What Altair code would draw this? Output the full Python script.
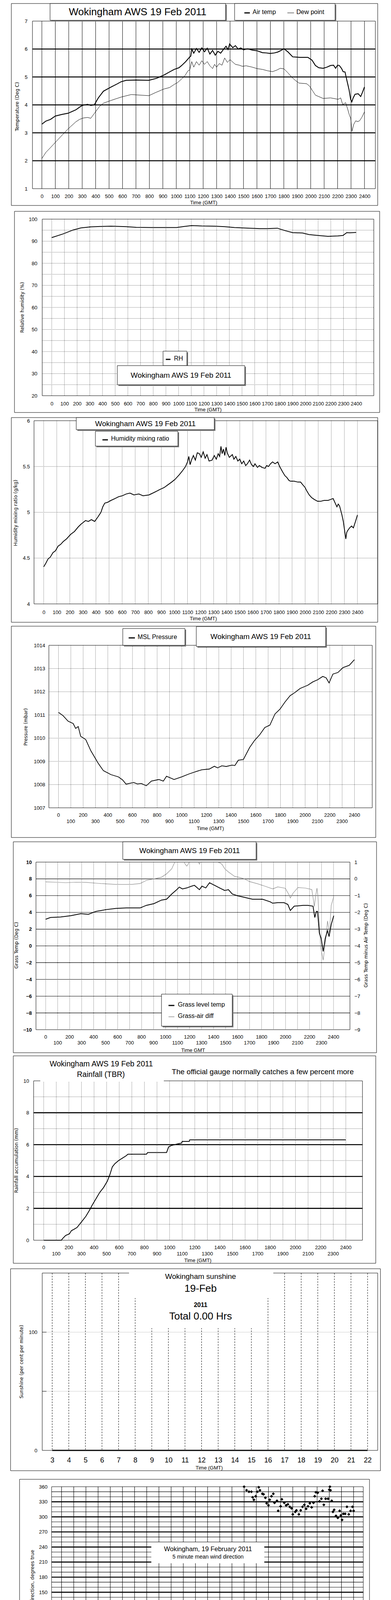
import altair as alt
import pandas as pd

FONT = "Liberation Sans, Arial, Helvetica, sans-serif"
TFONT = "DejaVu Sans, Verdana, sans-serif"
ONE = pd.DataFrame({"k": [0]})
X0 = 8        # page x of every panel's origin
VW = 966      # common view width

# ---------------- data ----------------
HUND = list(range(0, 2401, 100))
EVEN_H = list(range(0, 2401, 200))
ODD_H = list(range(100, 2400, 200))

air = [(0, 3.31), (30, 3.42), (64, 3.48), (100, 3.60), (150, 3.66), (195, 3.70), (252, 3.82), (290, 3.95),
       (308, 3.99), (340, 4.02), (364, 3.98), (390, 4.0), (420, 4.25), (458, 4.49), (515, 4.64), (560, 4.75),
       (590, 4.83), (627, 4.88), (700, 4.89), (796, 4.88), (853, 4.95), (909, 5.07), (950, 5.18), (984, 5.27),
       (1020, 5.33), (1040, 5.41), (1070, 5.55), (1097, 5.70), (1108, 5.75), (1115, 6.00), (1130, 5.85),
       (1150, 6.02), (1170, 5.88), (1190, 6.04), (1210, 5.90), (1230, 6.03), (1250, 5.82), (1270, 5.95),
       (1290, 5.78), (1310, 5.92), (1330, 5.85), (1350, 5.98), (1370, 6.10), (1385, 5.98), (1397, 6.18),
       (1420, 6.05), (1440, 6.12), (1460, 6.00), (1480, 6.04), (1500, 5.97), (1530, 6.01), (1566, 5.96),
       (1600, 5.94), (1641, 5.87), (1670, 5.86), (1698, 5.84), (1730, 5.86), (1754, 5.89), (1780, 5.95),
       (1801, 6.01), (1830, 5.90), (1866, 5.72), (1920, 5.70), (1979, 5.70), (2010, 5.60), (2035, 5.41),
       (2060, 5.33), (2092, 5.31), (2120, 5.35), (2148, 5.41), (2170, 5.42), (2185, 5.31), (2200, 5.42),
       (2213, 5.41), (2230, 5.30), (2241, 5.19), (2255, 5.18), (2269, 4.88), (2285, 4.55), (2297, 4.20),
       (2306, 4.11), (2316, 4.25), (2330, 4.38), (2353, 4.40), (2372, 4.30), (2385, 4.45), (2400, 4.64)]

dew = [(0, 2.08), (30, 2.3), (64, 2.47), (120, 2.76), (195, 3.14), (252, 3.39), (280, 3.48), (308, 3.53),
       (340, 3.55), (364, 3.52), (402, 3.77), (430, 3.95), (458, 4.06), (515, 4.16), (590, 4.28), (665, 4.37),
       (730, 4.35), (796, 4.33), (850, 4.45), (909, 4.57), (950, 4.62), (984, 4.73), (1010, 4.80), (1040, 4.93),
       (1065, 5.05), (1087, 5.22), (1100, 5.25), (1115, 5.55), (1130, 5.35), (1150, 5.55), (1170, 5.42),
       (1190, 5.58), (1210, 5.45), (1230, 5.55), (1250, 5.40), (1270, 5.30), (1285, 5.45), (1300, 5.35),
       (1320, 5.48), (1340, 5.42), (1360, 5.68), (1380, 5.52), (1400, 5.62), (1416, 5.55), (1440, 5.45),
       (1470, 5.42), (1491, 5.38), (1520, 5.40), (1566, 5.35), (1600, 5.30), (1641, 5.27), (1680, 5.22),
       (1716, 5.19), (1750, 5.25), (1773, 5.31), (1801, 5.29), (1830, 5.15), (1857, 5.0), (1885, 4.88),
       (1913, 4.78), (1969, 4.76), (1990, 4.68), (2016, 4.49), (2035, 4.35), (2054, 4.31), (2092, 4.23),
       (2148, 4.25), (2204, 4.20), (2223, 4.25), (2238, 4.01), (2260, 4.08), (2275, 3.85), (2290, 3.60),
       (2297, 3.53), (2307, 3.05), (2320, 3.30), (2335, 3.43), (2350, 3.40), (2363, 3.43), (2380, 3.55),
       (2400, 3.75)]

rh = [(0, 91.65), (89, 93.3), (169, 95.1), (229, 96.0), (308, 96.5), (388, 96.7), (467, 96.8), (586, 96.6),
      (666, 96.3), (785, 96.2), (984, 96.2), (1044, 96.7), (1103, 97.1), (1183, 96.9), (1282, 96.8),
      (1362, 96.6), (1441, 96.2), (1561, 95.9), (1640, 95.7), (1700, 95.7), (1779, 95.9), (1839, 94.8),
      (1899, 93.9), (1978, 93.7), (2028, 93.0), (2097, 92.6), (2177, 92.2), (2256, 92.4), (2296, 92.6),
      (2326, 93.9), (2350, 93.8), (2400, 94.0)]

mix = [(0, 4.405), (15, 4.44), (33, 4.49), (50, 4.51), (71, 4.56), (90, 4.58), (110, 4.63), (130, 4.65),
       (149, 4.68), (175, 4.71), (207, 4.76), (235, 4.79), (264, 4.84), (285, 4.87), (303, 4.89), (320, 4.91),
       (342, 4.90), (365, 4.92), (390, 4.90), (415, 4.95), (438, 5.00), (452, 5.06), (467, 5.10), (490, 5.11),
       (515, 5.13), (545, 5.15), (573, 5.17), (600, 5.18), (631, 5.20), (660, 5.21), (690, 5.19), (728, 5.20),
       (760, 5.18), (805, 5.19), (835, 5.21), (863, 5.23), (890, 5.25), (921, 5.27), (950, 5.30), (979, 5.33),
       (1005, 5.36), (1037, 5.41), (1060, 5.45), (1085, 5.50), (1100, 5.55), (1110, 5.61), (1120, 5.52),
       (1133, 5.58), (1145, 5.62), (1160, 5.57), (1175, 5.65), (1191, 5.64), (1205, 5.60), (1220, 5.66),
       (1235, 5.59), (1249, 5.63), (1265, 5.56), (1288, 5.57), (1305, 5.62), (1320, 5.58), (1335, 5.64),
       (1346, 5.61), (1356, 5.72), (1365, 5.64), (1375, 5.69), (1385, 5.62), (1395, 5.71), (1404, 5.65),
       (1420, 5.60), (1443, 5.63), (1455, 5.58), (1470, 5.61), (1485, 5.56), (1500, 5.58), (1515, 5.53),
       (1530, 5.56), (1545, 5.51), (1558, 5.53), (1575, 5.57), (1590, 5.52), (1605, 5.50), (1616, 5.53),
       (1635, 5.49), (1650, 5.51), (1670, 5.49), (1693, 5.48), (1706, 5.51), (1720, 5.50), (1735, 5.53),
       (1751, 5.55), (1770, 5.53), (1790, 5.55), (1805, 5.50), (1828, 5.44), (1845, 5.40), (1860, 5.38),
       (1875, 5.35), (1886, 5.34), (1915, 5.34), (1944, 5.33), (1965, 5.33), (1982, 5.30), (2000, 5.27),
       (2010, 5.24), (2031, 5.19), (2050, 5.16), (2070, 5.14), (2095, 5.12), (2118, 5.12), (2145, 5.13),
       (2176, 5.13), (2195, 5.14), (2214, 5.15), (2230, 5.10), (2243, 5.06), (2253, 5.09), (2263, 5.07),
       (2280, 4.98), (2292, 4.90), (2311, 4.71), (2318, 4.78), (2325, 4.80), (2340, 4.83), (2355, 4.85),
       (2369, 4.83), (2385, 4.90), (2400, 4.97)]

pres = [(0, 1011.11), (37, 1010.97), (78, 1010.73), (119, 1010.63), (139, 1010.42), (160, 1010.5),
        (180, 1010.08), (221, 1009.94), (262, 1009.46), (323, 1008.91), (364, 1008.60), (425, 1008.43),
        (487, 1008.33), (520, 1008.2), (548, 1008.02), (609, 1008.09), (640, 1008.03), (671, 1008.05),
        (712, 1007.95), (753, 1008.15), (814, 1008.22), (850, 1008.15), (876, 1008.36), (937, 1008.22),
        (998, 1008.33), (1059, 1008.46), (1121, 1008.57), (1162, 1008.64), (1223, 1008.67), (1264, 1008.79),
        (1290, 1008.72), (1325, 1008.81), (1360, 1008.78), (1407, 1008.84), (1430, 1008.82), (1458, 1009.05),
        (1499, 1009.08), (1550, 1009.60), (1591, 1009.91), (1632, 1010.15), (1673, 1010.46), (1714, 1010.56),
        (1755, 1011.04), (1796, 1011.25), (1837, 1011.56), (1878, 1011.83), (1918, 1011.97), (1959, 1012.14),
        (2021, 1012.28), (2061, 1012.42), (2102, 1012.52), (2143, 1012.66), (2170, 1012.6), (2194, 1012.38),
        (2225, 1012.76), (2266, 1012.83), (2307, 1013.04), (2358, 1013.14), (2399, 1013.38)]

grass = [(0, 3.18), (40, 3.39), (124, 3.45), (208, 3.60), (293, 3.85), (356, 3.77), (419, 4.12), (461, 4.22),
         (503, 4.33), (587, 4.47), (672, 4.53), (787, 4.53), (840, 4.84), (903, 5.05), (966, 5.47),
         (1008, 5.57), (1051, 6.19), (1093, 6.71), (1114, 7.02), (1140, 6.8), (1177, 6.92), (1210, 7.1),
         (1240, 7.23), (1282, 6.71), (1303, 7.13), (1335, 6.92), (1366, 7.54), (1408, 7.23), (1450, 6.92),
         (1493, 6.61), (1524, 6.71), (1556, 6.19), (1598, 5.99), (1661, 5.78), (1724, 5.57), (1808, 5.57),
         (1872, 5.26), (1893, 5.09), (1935, 5.16), (1987, 5.16), (2019, 4.95), (2040, 4.22), (2072, 4.74),
         (2145, 4.84), (2187, 4.84), (2229, 4.74), (2244, 3.39), (2257, 4.12), (2267, 4.12), (2282, 1.52),
         (2297, 0.90), (2314, -0.66), (2331, 0.90), (2350, 1.83), (2363, 1.11), (2381, 2.56), (2402, 3.60)]

gdiff = [(0, -0.18), (82, -0.20), (166, -0.23), (251, -0.20), (335, -0.21), (461, -0.28), (587, -0.33),
         (714, -0.33), (787, -0.28), (840, -0.09), (903, 0.0), (966, 0.1), (1008, 0.3), (1051, 0.6),
         (1072, 0.93), (1090, 1.15), (1120, 1.2), (1150, 1.05), (1166, 0.85), (1177, 0.76), (1190, 0.9),
         (1205, 1.15), (1240, 1.2), (1265, 1.1), (1282, 0.88), (1295, 1.1), (1330, 1.25), (1380, 1.2),
         (1420, 1.1), (1440, 0.97), (1455, 0.95), (1472, 0.85), (1493, 0.6), (1524, 0.41), (1577, 0.14),
         (1608, 0.1), (1650, 0.02), (1703, -0.17), (1766, -0.29), (1829, -0.44), (1893, -0.6), (1935, -0.48),
         (1998, -0.56), (2029, -0.95), (2040, -1.14), (2061, -0.87), (2103, -0.52), (2166, -0.55),
         (2219, -0.64), (2229, -1.1), (2240, -1.65), (2250, -1.06), (2262, -0.55), (2270, -1.0), (2280, -2.5),
         (2293, -4.07), (2314, -4.85), (2335, -3.66), (2350, -2.51), (2366, -3.24), (2381, -1.58),
         (2402, -1.06)]

rain = [(0, 0), (140, 0), (150, 0.1), (174, 0.3), (204, 0.4), (220, 0.6), (244, 0.7), (265, 0.8), (285, 1.0),
        (305, 1.2), (335, 1.5), (365, 1.9), (385, 2.2), (415, 2.6), (445, 3.0), (475, 3.3), (505, 3.7),
        (525, 4.1), (545, 4.6), (565, 4.8), (595, 5.0), (625, 5.15), (655, 5.3), (669, 5.4), (816, 5.4),
        (826, 5.5), (976, 5.5), (992, 5.85), (1016, 5.95), (1066, 6.05), (1096, 6.1), (1100, 6.2),
        (1156, 6.2), (1160, 6.3), (2400, 6.3)]

sun_hours = list(range(3, 23))
sun_vals = [0] * 20

wdir = [(0.05, 89.6), (0.1, 86), (0.2, 88), (0.4, 90), (0.5, 95), (0.6, 84), (0.7, 94), (0.9, 105), (1.0, 108),
        (1.1, 102), (1.3, 101), (1.5, 97), (1.6, 87), (1.7, 106), (1.9, 102), (2.0, 109), (2.1, 108),
        (2.3, 102), (2.5, 97), (2.6, 92), (2.8, 88), (3.0, 98), (3.1, 87), (3.3, 90), (3.5, 87), (3.7, 90),
        (3.9, 91), (4.1, 87), (4.2, 98), (4.3, 102), (4.5, 95), (4.7, 101), (4.9, 99), (5.0, 98), (5.2, 94),
        (5.3, 98), (5.5, 92), (5.7, 95), (5.9, 92), (6.0, 101), (6.1, 92), (6.3, 97), (6.5, 94), (6.7, 91),
        (6.9, 87), (7.0, 90), (7.2, 94), (7.4, 99), (7.6, 95), (7.8, 94), (8.0, 99), (8.2, 92), (8.4, 87),
        (8.6, 90), (8.8, 94), (9.0, 87), (9.2, 97), (9.4, 101), (9.5, 94), (9.6, 87), (9.9, 84), (10.1, 76),
        (10.3, 72), (10.5, 70), (10.7, 63), (10.9, 59), (11.1, 58), (11.3, 48), (11.5, 62), (11.6, 55),
        (11.8, 59), (12.0, 51), (12.2, 48), (12.4, 44), (12.6, 46), (12.8, 51), (13.0, 56), (13.2, 46),
        (13.3, 34), (13.5, 40), (13.6, 31), (13.7, 37), (13.8, 48), (13.9, 33), (14.2, 42), (14.3, 49),
        (14.4, 34), (14.6, 27), (14.7, 26), (14.8, 7.5), (14.9, 6), (15.5, 4), (21.7, 2.5), (21.8, 10),
        (15.0, 360), (15.2, 353), (15.4, 350), (15.6, 350), (15.7, 339), (15.8, 334), (15.95, 341),
        (16.1, 350), (16.2, 359), (16.3, 353), (16.5, 346), (16.6, 345), (16.75, 338), (16.85, 327),
        (17.0, 323), (17.1, 334), (17.25, 341), (17.4, 346), (17.5, 328), (17.7, 332), (17.8, 312),
        (18.0, 321), (18.1, 335), (18.3, 328), (18.45, 323), (18.6, 325), (18.75, 320), (18.9, 317),
        (19.0, 305), (19.2, 310), (19.3, 313), (19.5, 305), (19.65, 313), (19.8, 320), (19.95, 324),
        (20.1, 316), (20.25, 321), (20.4, 327), (20.55, 319), (20.7, 328), (20.8, 341), (20.9, 349),
        (21.05, 348), (21.2, 331), (21.35, 336), (21.45, 352), (21.55, 324), (21.7, 336), (21.9, 336),
        (22.0, 354), (22.05, 360), (22.1, 353), (22.2, 332), (22.3, 310), (22.4, 314), (22.55, 302),
        (22.7, 298), (22.85, 312), (22.95, 303), (23.05, 294), (23.15, 306), (23.3, 306), (23.45, 320),
        (23.6, 305), (23.75, 312), (23.9, 320), (24.0, 312)]

wmean = [(0.1, 6.5), (0.3, 6.9), (0.5, 7.0), (0.8, 6.0), (1.0, 6.2), (1.3, 6.5), (1.6, 6.7), (1.8, 6.1),
         (2.0, 6.7), (2.2, 5.0), (2.4, 6.0), (2.7, 5.8), (3.0, 5.9), (3.3, 5.8), (3.5, 6.2), (3.7, 5.4),
         (4.0, 6.5), (4.2, 4.8), (4.4, 6.0), (4.6, 6.5), (4.8, 5.2), (5.1, 6.9), (5.3, 6.9), (5.5, 6.0),
         (5.7, 5.0), (5.9, 4.6), (6.1, 4.8), (6.3, 6.0), (6.6, 5.8), (6.8, 5.6), (7.0, 5.0), (7.2, 6.0),
         (7.4, 6.9), (7.6, 5.6), (7.8, 4.8), (8.0, 4.8), (8.2, 5.8), (8.4, 6.0), (8.6, 6.0), (8.8, 5.0),
         (9.0, 5.2), (9.2, 5.0), (9.4, 5.6), (9.6, 5.2), (9.9, 5.0), (10.0, 4.3), (10.2, 4.8), (10.4, 3.3),
         (10.6, 4.3), (10.8, 4.6), (11.0, 4.3), (11.2, 4.1), (11.4, 3.5), (11.6, 4.6), (11.8, 4.3),
         (12.0, 4.8), (12.2, 5.0), (12.4, 4.1), (12.6, 5.4), (12.8, 4.1), (13.0, 4.3), (13.2, 4.6),
         (13.4, 4.1), (13.6, 4.3), (13.8, 3.7), (14.0, 4.3), (14.2, 3.7), (14.4, 5.2), (14.6, 2.7),
         (14.8, 3.5), (15.0, 3.3), (15.2, 3.9), (15.4, 3.3), (15.6, 3.7), (15.8, 3.9), (16.0, 3.5),
         (16.2, 3.7), (16.4, 3.9), (16.6, 3.1), (16.8, 2.4), (17.0, 3.3), (17.2, 3.7), (17.4, 2.7),
         (17.6, 2.4), (17.8, 2.9), (18.0, 4.3), (18.2, 3.7), (18.4, 3.3), (18.6, 3.9), (18.8, 4.6),
         (19.0, 3.7), (19.2, 3.9), (19.4, 4.3), (19.6, 4.8), (19.8, 3.5), (20.0, 6.5), (20.2, 5.6),
         (20.4, 3.7), (20.6, 3.1), (20.8, 3.7), (21.0, 4.3), (21.2, 4.8), (21.4, 2.9), (21.6, 3.7),
         (21.8, 2.2), (22.0, 2.4), (22.2, 3.1), (22.4, 2.7), (22.6, 2.9), (22.8, 2.4), (23.0, 3.7),
         (23.2, 4.1), (23.4, 3.9), (23.6, 2.9), (23.8, 3.1)]

# max gust, ten readings per hour (6-minute steps)
gust_by_hour = [
    [8.5, 11.5, 8.0, 12.8, 9.0, 11.0, 7.5, 12.2, 8.5, 10.5],
    [7.0, 11.5, 8.0, 10.5, 7.5, 11.8, 8.0, 12.2, 7.5, 10.8],
    [14.7, 8.0, 11.0, 7.0, 10.5, 6.5, 11.2, 7.5, 10.0, 6.8],
    [10.5, 7.0, 11.5, 8.0, 12.0, 7.5, 12.4, 6.5, 11.5, 7.0],
    [12.2, 8.0, 11.0, 6.0, 10.5, 7.5, 12.0, 6.5, 11.5, 8.0],
    [11.7, 6.5, 11.0, 7.5, 10.5, 5.5, 9.5, 6.0, 10.8, 7.0],
    [10.5, 6.0, 11.2, 7.0, 9.5, 5.5, 12.0, 6.5, 13.0, 7.0],
    [11.5, 6.0, 12.0, 7.0, 10.5, 6.0, 11.0, 5.5, 10.5, 6.5],
    [11.0, 6.0, 10.0, 6.5, 11.5, 6.0, 10.0, 5.5, 9.5, 6.0],
    [10.5, 5.5, 11.5, 6.0, 11.0, 5.5, 9.0, 5.0, 9.5, 5.5],
    [7.5, 4.5, 8.0, 5.0, 6.5, 4.0, 7.5, 5.0, 7.0, 4.5],
    [6.5, 4.0, 8.0, 4.5, 7.5, 5.0, 8.5, 4.5, 7.0, 5.0],
    [8.0, 4.5, 7.5, 5.0, 7.0, 4.5, 6.5, 5.5, 7.5, 4.5],
    [7.0, 4.5, 7.5, 5.0, 6.5, 4.5, 7.0, 4.5, 6.5, 4.0],
    [6.5, 4.0, 6.5, 3.5, 6.0, 3.0, 5.5, 4.0, 6.0, 3.5],
    [6.0, 3.5, 6.5, 4.0, 5.5, 3.5, 6.0, 4.0, 5.5, 3.0],
    [5.0, 3.5, 5.5, 3.0, 5.0, 3.5, 4.5, 2.5, 5.0, 3.0],
    [4.5, 2.5, 5.5, 3.0, 5.0, 2.5, 6.0, 3.0, 6.5, 3.5],
    [6.0, 3.5, 7.5, 4.0, 8.0, 4.5, 7.0, 4.0, 8.5, 4.5],
    [7.5, 4.0, 8.0, 4.5, 7.0, 4.0, 7.5, 5.0, 6.5, 4.0],
    [11.0, 5.5, 8.0, 4.5, 7.0, 3.5, 6.0, 4.5, 7.5, 4.0],
    [7.5, 4.0, 7.0, 3.5, 6.0, 3.0, 5.0, 2.0, 6.0, 2.5],
    [5.5, 3.0, 6.0, 3.0, 5.0, 3.5, 6.0, 3.0, 5.5, 3.0],
    [6.5, 3.5, 5.0, 4.0, 5.5, 3.5, 5.0, 3.5, 5.0],
]

wdiam = [(2.22, 49), (4.24, 46.5), (4.26, 47.5), (4.28, 48), (4.32, 49),
         (5.66, 50), (5.70, 48), (5.72, 46.5), (5.76, 45.5), (5.80, 44.5), (5.86, 47), (5.88, 43.5), (5.92, 42),
         (5.96, 41), (5.98, 40), (6.02, 39), (6.04, 49.5), (6.10, 48), (6.14, 47), (6.18, 50), (6.22, 46),
         (6.26, 44), (6.30, 48.5),
         (7.07, 49), (7.10, 48), (7.14, 47), (7.18, 49.5),
         (7.96, 50), (8.00, 49), (8.04, 48.5), (8.08, 47), (8.12, 45.5), (8.18, 49.5), (8.24, 48),
         (8.85, 48), (8.88, 46), (8.92, 45), (9.02, 49), (9.12, 48), (9.25, 50), (9.35, 47.5), (9.45, 45.5),
         (9.60, 49.5), (9.75, 47),
         (9.98, 46), (10.0, 44), (10.02, 42), (10.05, 40), (10.08, 38), (10.12, 37), (10.15, 36), (10.2, 45),
         (10.25, 41), (10.3, 46.5), (10.35, 43), (10.4, 40),
         (10.46, 44), (10.5, 42), (10.54, 41), (10.58, 40), (10.62, 38), (10.66, 36), (10.70, 34), (10.74, 33),
         (10.8, 44), (10.84, 43), (10.88, 41), (10.92, 40), (10.98, 45), (11.04, 47), (11.1, 33.5), (11.14, 36),
         (11.18, 42),
         (11.25, 38), (11.3, 36), (11.34, 35), (11.38, 32.5), (11.44, 40), (11.5, 44), (11.54, 46), (11.58, 48),
         (11.62, 49), (11.66, 47), (11.70, 45), (11.76, 43), (11.82, 41), (11.88, 39), (11.94, 44), (12.0, 47),
         (12.06, 49), (12.12, 46),
         (12.28, 45), (12.34, 42), (12.40, 40), (12.46, 43), (12.52, 47), (12.58, 48), (12.64, 44), (12.70, 41),
         (12.76, 39.5), (12.84, 46), (12.90, 42), (12.96, 44), (13.04, 46), (13.10, 48), (13.16, 49.5),
         (13.22, 47), (13.28, 43), (13.34, 40), (13.40, 45), (13.44, 48),
         (13.80, 44), (13.85, 42), (13.90, 40), (13.95, 38), (14.0, 41), (14.05, 43), (14.1, 39), (14.15, 37),
         (14.2, 42), (14.28, 48.5), (14.32, 45.5), (14.38, 43), (14.45, 39), (14.52, 37),
         (14.6, 33), (14.64, 32), (14.68, 29), (14.72, 27), (14.76, 25.5), (14.82, 31), (14.88, 34), (14.94, 35),
         (15.0, 33), (15.06, 30), (15.12, 28.5), (15.2, 32), (15.28, 35),
         (15.32, 41), (15.38, 39), (15.44, 37), (15.50, 35), (15.56, 33), (15.62, 31), (15.7, 38), (15.78, 40),
         (15.86, 37), (15.94, 34),
         (16.05, 40), (16.1, 38), (16.15, 36), (16.2, 34), (16.25, 32), (16.3, 31), (16.36, 30), (16.42, 35),
         (16.5, 33), (16.56, 31), (16.62, 28), (16.68, 26), (16.74, 24.5), (16.8, 27), (16.86, 30), (16.92, 32),
         (16.98, 35),
         (17.1, 33), (17.16, 30), (17.22, 27), (17.28, 25), (17.34, 23), (17.40, 22), (17.46, 25), (17.52, 28),
         (17.58, 32), (17.64, 35), (17.70, 38), (17.76, 36), (17.82, 34), (17.88, 31), (17.92, 29), (17.96, 27),
         (18.0, 24), (18.04, 22), (18.08, 44), (18.12, 42),
         (18.16, 40), (18.22, 37), (18.28, 35), (18.34, 33), (18.40, 31), (18.46, 39), (18.52, 41), (18.58, 43),
         (18.64, 44), (18.70, 41), (18.76, 39), (18.82, 37), (18.88, 35), (18.94, 38), (19.0, 40),
         (19.1, 49), (19.16, 48), (19.22, 47), (19.28, 45), (19.34, 43), (19.40, 41), (19.46, 39), (19.52, 37),
         (19.58, 47), (19.64, 46), (19.70, 44), (19.76, 42), (19.82, 40), (19.88, 37), (19.94, 35), (20.0, 33),
         (20.3, 49.5), (20.34, 47), (20.38, 44), (20.42, 42), (20.46, 39), (20.5, 36), (20.54, 33), (20.58, 31),
         (20.62, 29.5),
         (20.68, 31), (20.72, 33), (20.76, 35), (20.80, 37), (20.86, 39), (20.92, 41), (20.98, 44), (21.04, 46),
         (21.10, 48), (21.16, 45), (21.22, 41), (21.28, 38), (21.34, 36), (21.40, 34),
         (21.46, 31), (21.52, 29), (21.58, 27), (21.64, 26), (21.70, 28), (21.76, 30), (21.82, 28), (21.86, 26),
         (21.90, 24), (21.94, 22), (21.98, 20), (22.02, 21), (22.08, 27), (22.14, 29),
         (22.2, 34), (22.26, 32), (22.32, 30), (22.38, 28), (22.44, 27), (22.50, 25), (22.56, 26), (22.62, 36),
         (22.68, 34), (22.74, 32), (22.80, 30), (22.86, 28), (22.92, 26), (22.96, 25),
         (23.0, 24), (23.06, 41), (23.12, 40), (23.18, 39), (23.24, 38), (23.30, 36), (23.36, 34), (23.42, 31),
         (23.48, 29), (23.54, 28),
         (23.6, 34), (23.66, 33), (23.72, 32), (23.78, 31), (23.84, 30), (23.9, 29), (23.96, 31)]

SPEED_EVEN = list(range(0, 23, 2))
SPEED_EVEN_LAB = ["00:00", "02:00", "04:00", "06:00", "08:00", "10:00", "12:00", "14:00", "16:00", "18:00",
                  "20:00", "22:00"]
SPEED_ODD = list(range(1, 24, 2))
SPEED_ODD_LAB = ["01:00", "03:00", "05:00", "07:00", "09:00", "11:00", "13:00", "15:00", "17:00", "19:00",
                 "21:00", "23:00"]

TITLE = "Wokingham AWS 19 Feb 2011"


# ---------------- helpers (positions in reference page pixels) ----------------
def pdf(pairs):
    return pd.DataFrame(pairs, columns=["x", "y"])


def rect(T, x1, y1, x2, y2, fill="transparent", stroke=None, sw=1.0):
    kw = {"fill": fill, "strokeWidth": sw}
    if stroke is not None:
        kw["stroke"] = stroke
    return alt.Chart(ONE).mark_rect(**kw).encode(
        x=alt.value(x1 - X0), x2=alt.value(x2 - X0), y=alt.value(y1 - T), y2=alt.value(y2 - T))


def box(T, x1, y1, x2, y2, shadow=True):
    out = []
    if shadow:
        out.append(rect(T, x1 + 3, y1 + 3, x2 + 3, y2 + 3, fill="#7a7a7a"))
    out.append(rect(T, x1, y1, x2, y2, fill="white", stroke="black", sw=1))
    return out


def label(T, s, x, y, size=13, font=FONT, weight="normal", angle=0, align="center", color="black"):
    return alt.Chart(pd.DataFrame({"t": [s]})).mark_text(
        font=font, fontSize=size, fontWeight=weight, angle=angle, align=align,
        baseline="middle", color=color).encode(x=alt.value(x - X0), y=alt.value(y - T), text="t:N")


def seg(T, x1, x2, y, w=3.0, color="black"):
    return alt.Chart(ONE).mark_rule(color=color, strokeWidth=w).encode(
        x=alt.value(x1 - X0), x2=alt.value(x2 - X0), y=alt.value(y - T))


def vgrid(vals, xs, xax, color="black", w=1.0, dash=None):
    kw = {"color": color, "strokeWidth": w}
    if dash:
        kw["strokeDash"] = dash
    return alt.Chart(pd.DataFrame({"x": vals})).mark_rule(**kw).encode(x=alt.X("x:Q", scale=xs, axis=xax))


def hgrid(vals, ys, yax, L, R, color="black", w=1.0, dash=None):
    kw = {"color": color, "strokeWidth": w}
    if dash:
        kw["strokeDash"] = dash
    return alt.Chart(pd.DataFrame({"y": vals})).mark_rule(**kw).encode(
        y=alt.Y("y:Q", scale=ys, axis=yax), x=alt.value(L - X0), x2=alt.value(R - X0))


def xaxis(values, pad, size=13, fmt="d"):
    return alt.Axis(values=values, grid=False, ticks=False, domain=False, title=None, labelFont=FONT,
                    labelFontSize=size, labelPadding=pad, labelFlush=False, labelOverlap=False, format=fmt,
                    labelColor="black")


def yaxis(values, pad, L, size=13, fmt="d", weight="normal", orient="left"):
    off = -(L - X0) if orient == "left" else (L - X0) - VW
    return alt.Axis(values=values, grid=False, ticks=False, domain=False, title=None, orient=orient,
                    offset=off, labelFont=FONT, labelFontSize=size, labelPadding=pad, labelFlush=False,
                    labelOverlap=False, format=fmt, labelFontWeight=weight, labelColor="black")


def rowlab(vals, texts, xs, T, y, size=13):
    df = pd.DataFrame({"x": vals, "t": texts})
    return alt.Chart(df).mark_text(font=FONT, fontSize=size, baseline="middle", align="center",
                                   color="black").encode(
        x=alt.X("x:Q", scale=xs, axis=None), y=alt.value(y - T), text="t:N")


def line(df, xs, ys, xax, yax, w=2.0, color="black", clip=False):
    return alt.Chart(df).mark_line(color=color, strokeWidth=w, clip=clip).encode(
        x=alt.X("x:Q", scale=xs, axis=xax), y=alt.Y("y:Q", scale=ys, axis=yax))


def base_layers(T, frame, prev):
    fl, ft, fr, fb = frame
    return [rect(T, X0, prev, fr, ft + 1), rect(T, fl, ft, fr, fb, stroke="black", sw=1)]


def border(T, L, R, B):
    return rect(T, L, T, R, B, stroke="black", sw=1)


def xsc(a, b, L, R):
    return alt.Scale(domain=[a, b], range=[L - X0, R - X0], nice=False, zero=False)


def ysc(a, b):
    return alt.Scale(domain=[a, b], nice=False, zero=False)


panels = []

# ---------- 1: temperature ----------
L, T, R, B = 83, 48, 960, 477
xs, ys = xsc(-70, 2481, L, R), ysc(1, 7)
xa, ya = xaxis(HUND, 13), yaxis(list(range(1, 8)), 13, L)
lay = base_layers(T, (29, 3, 966, 520), 3)
lay += [vgrid(HUND, xs, xa), hgrid([2, 3, 4, 5, 6], ys, ya, L, R, w=2.6), border(T, L, R, B)]
lay.append(line(pdf(air), xs, ys, xa, ya, w=2.2))
lay.append(line(pdf(dew), xs, ys, xa, ya, w=1.0))
lay += box(T, 128, 3, 577, 46)
lay.append(label(T, TITLE, 352, 25, size=26))
lay += box(T, 600, 3, 857, 46)
lay += [seg(T, 625, 639, 27, 3), label(T, "Air temp", 646, 25, size=16, align="left"),
        seg(T, 735, 752, 27, 1), label(T, "Dew point", 758, 25, size=16, align="left")]
lay.append(label(T, "Temperature (Deg C)", 44, 267, size=12, font=TFONT, angle=270))
lay.append(label(T, "Time (GMT)", 521, 513, size=13))
panels.append(alt.layer(*lay).properties(width=VW, height=B - T))

# ---------- 2: RH ----------
L, T, R, B = 108, 554, 956, 1006
xs, ys = xsc(-75, 2539, L, R), ysc(20, 100)
xa, ya = xaxis(HUND, 14), yaxis(list(range(20, 101, 10)), 13, L)
lay = base_layers(T, (37, 534, 971, 1049), 520)
lay += [vgrid(HUND, xs, xa, dash=[1, 2]), hgrid(list(range(25, 100, 5)), ys, ya, L, R, dash=[1, 2]),
        border(T, L, R, B)]
lay.append(line(pdf(rh), xs, ys, xa, ya, w=2.0))
lay += box(T, 417, 892, 478, 929)
lay += [seg(T, 424, 436, 913, 3), label(T, "RH", 445, 911, size=16, align="left")]
lay += box(T, 300, 929, 626, 978)
lay.append(label(T, TITLE, 463, 954, size=19))
lay.append(label(T, "Relative humidity (%)", 57, 780, size=12, font=TFONT, angle=270))
lay.append(label(T, "Time (GMT)", 532, 1042, size=13))
panels.append(alt.layer(*lay).properties(width=VW, height=B - T))

# ---------- 3: mixing ratio ----------
L, T, R, B = 87, 1069, 966, 1538
xs, ys = xsc(-74, 2555, L, R), ysc(4, 6)
xa, ya = xaxis(HUND, 15), yaxis([4, 4.5, 5, 5.5, 6], 11, L, fmt=".1~f")
lay = base_layers(T, (29, 1061, 966, 1585), 1049)
lay += [vgrid(HUND, xs, xa, dash=[1, 2]), hgrid([4.5, 5, 5.5], ys, ya, L, R, dash=[1, 2]), border(T, L, R, B)]
lay.append(line(pdf(mix), xs, ys, xa, ya, w=2.0))
lay += box(T, 195, 1061, 548, 1092)
lay.append(label(T, TITLE, 372, 1077, size=19))
lay += box(T, 244, 1096, 455, 1134)
lay += [seg(T, 262, 276, 1118, 3), label(T, "Humidity mixing ratio", 284, 1115, size=16, align="left")]
lay.append(label(T, "Humidity mixing ratio (g/kg)", 40, 1305, size=12, font=TFONT, angle=270))
lay.append(label(T, "Time (GMT)", 520, 1576, size=13))
panels.append(alt.layer(*lay).properties(width=VW, height=B - T))

# ---------- 4: pressure ----------
L, T, R, B = 125, 1643, 952, 2059
xs, ys = xsc(-78, 2544, L, R), ysc(1007, 1014)
xa, ya = None, yaxis(list(range(1007, 1015)), 10, L)
lay = base_layers(T, (29, 1594, 961, 2135), 1585)
lay += [vgrid(HUND, xs, xa, dash=[1, 2]), hgrid(list(range(1008, 1014)), ys, ya, L, R, dash=[1, 2]),
        border(T, L, R, B)]
lay.append(line(pdf(pres), xs, ys, xa, ya, w=1.8))
lay += [rowlab(EVEN_H, [str(v) for v in EVEN_H], xs, T, 2078),
        rowlab(ODD_H, [str(v) for v in ODD_H], xs, T, 2094)]
lay += box(T, 314, 1600, 473, 1643)
lay += [seg(T, 329, 345, 1624, 3), label(T, "MSL Pressure", 352, 1622, size=16, align="left")]
lay += box(T, 502, 1595, 833, 1646)
lay.append(label(T, TITLE, 667, 1621, size=19))
lay.append(label(T, "Pressure (mbar)", 66, 1852, size=12, font=TFONT, angle=270))
lay.append(label(T, "Time (GMT)", 538, 2112, size=13))
panels.append(alt.layer(*lay).properties(width=VW, height=B - T))

# ---------- 5: grass ----------
L, T, R, B = 92, 2197, 895, 2626
xs, ys, yr = xsc(-81, 2537, L, R), ysc(-10, 10), ysc(-9, 1)
lay = base_layers(T, (34, 2145, 963, 2685), 2135)
lay += [vgrid(HUND, xs, None, dash=[1, 2]), hgrid(list(range(-8, 9, 2)), ys, None, L, R, w=1.1),
        border(T, L, R, B)]
lay.append(line(pdf(gdiff), xs, yr, None, yaxis(list(range(-9, 2)), 11, R, orient="right"),
                w=1.2, color="#8c8c8c", clip=True))
lay.append(line(pdf(grass), xs, ys, None, yaxis(list(range(-10, 11, 2)), 11, L, weight="bold"), w=2.0))
lay += [rowlab(EVEN_H, [str(v) for v in EVEN_H], xs, T, 2645),
        rowlab(ODD_H, [str(v) for v in ODD_H], xs, T, 2660)]
lay += box(T, 314, 2145, 655, 2190)
lay.append(label(T, TITLE, 485, 2168, size=19))
lay += box(T, 413, 2535, 594, 2617)
lay += [seg(T, 431, 446, 2564, 3), label(T, "Grass level temp", 455, 2562, size=16, align="left"),
        seg(T, 431, 446, 2593, 1.5, color="#8c8c8c"),
        label(T, "Grass-air diff", 455, 2591, size=16, align="left")]
lay.append(label(T, "Grass Temp (Deg C)", 42, 2410, size=12, font=TFONT, angle=270))
lay.append(label(T, "Grass Temp minus Air Temp (Deg C)", 936, 2410, size=12, font=TFONT, angle=270))
lay.append(label(T, "Time GMT", 494, 2679, size=13))
panels.append(alt.layer(*lay).resolve_scale(y="independent").properties(width=VW, height=B - T))

# ---------- 6: rainfall ----------
L, T, R, B = 86, 2756, 927, 3164
xs, ys = xsc(-80, 2532, L, R), ysc(0, 10)
xa, ya = None, yaxis(list(range(0, 11, 2)), 12, L)
lay = base_layers(T, (34, 2692, 961, 3223), 2685)
lay += [vgrid(HUND, xs, xa, dash=[1, 2]), hgrid([1, 3, 5, 7, 9], ys, ya, L, R, dash=[1, 2]),
        hgrid([2, 4, 6, 8], ys, ya, L, R, w=2.6), border(T, L, R, B)]
lay.append(line(pdf(rain), xs, ys, xa, ya, w=2.0))
lay += [rowlab(EVEN_H, [str(v) for v in EVEN_H], xs, T, 3183),
        rowlab(ODD_H, [str(v) for v in ODD_H], xs, T, 3199)]
lay.append(rect(T, 103, 2695, 419, 2759, fill="white"))
lay += [label(T, TITLE, 259, 2713, size=19.5), label(T, "Rainfall (TBR)", 258, 2740, size=19.5),
        label(T, "The official gauge normally catches a few percent more", 672, 2733, size=19)]
lay.append(label(T, "Rainfall accumulation (mm)", 42, 2960, size=12, font=TFONT, angle=270))
lay.append(label(T, "Time (GMT)", 506, 3216, size=13))
panels.append(alt.layer(*lay).properties(width=VW, height=B - T))

# ---------- 7: sunshine ----------
L, T, R, B = 108, 3247, 966, 3701
xs, ys = xsc(2.4, 22.61, L, R), ysc(0, 150)
xa, ya = xaxis(sun_hours, 16, size=18), yaxis([0, 100], 13, L)
lay = base_layers(T, (27, 3236, 973, 3753), 3223)
lay += [vgrid(sun_hours, xs, xa, dash=[4, 3]), hgrid([50, 100], ys, ya, L, R, color="#9a9a9a", dash=[1, 1]),
        hgrid([50, 100], ys, ya, L, L + 11), border(T, L, R, B)]
lay.append(line(pd.DataFrame({"x": sun_hours, "y": sun_vals}), xs, ys, xa, ya, w=3))
lay += [rect(T, 330, 3241, 699, 3311, fill="white"), rect(T, 348, 3311, 683, 3388, fill="white")]
lay += [label(T, "Wokingham sunshine", 513, 3256, size=19),
        label(T, "19-Feb", 513, 3287, size=26),
        label(T, "2011", 513, 3329, size=16, weight="bold"),
        label(T, "Total 0.00 Hrs", 513, 3358, size=26)]
lay.append(label(T, "Sunshine (per cent per minute)", 55, 3474, size=12, font=TFONT, angle=270))
lay.append(label(T, "Time (GMT)", 535, 3746, size=13))
panels.append(alt.layer(*lay).properties(width=VW, height=B - T))

# ---------- 8: wind direction ----------
L, T, R, B = 132, 3793, 929, 4256
xs, ys = xsc(-0.82, 24.79, L, R), ysc(0, 360)
xa, ya = xaxis(list(range(0, 25)), 13), yaxis(list(range(0, 361, 30)), 11, L)
lay = base_layers(T, (50, 3774, 945, 4305), 3753)
thin = [v for v in range(10, 360, 10) if v % 30 != 0]
lay += [vgrid(list(range(0, 25)), xs, xa, w=1.1), hgrid(thin, ys, ya, L, R, w=1.1),
        hgrid(list(range(30, 360, 30)), ys, ya, L, R, w=2.6), border(T, L, R, B)]
lay.append(alt.Chart(pdf(wdir)).mark_point(shape="diamond", filled=True, color="black", size=60,
                                            opacity=1).encode(
    x=alt.X("x:Q", scale=xs, axis=xa), y=alt.Y("y:Q", scale=ys, axis=ya)))
lay.append(rect(T, 387, 3935, 676, 3989, fill="white"))
lay += [label(T, "Wokingham,  19 February 2011", 532, 3953, size=16.5),
        label(T, "5 minute mean wind direction", 532, 3973, size=14)]
lay.append(label(T, "Direction, degrees true", 83, 4024, size=12, font=TFONT, angle=270))
lay.append(label(T, "Time (GMT)", 529, 4293, size=14))
panels.append(alt.layer(*lay).properties(width=VW, height=B - T))

# ---------- 9: wind speed ----------
L, T, R, B = 106, 4358, 927, 4755
xs, ys = xsc(-0.78, 24.91, L, R), ysc(0, 50)
xa, ya = None, yaxis(list(range(0, 51, 10)), 11, L)
lay = base_layers(T, (50, 4314, 946, 4829), 4305)
lay += [vgrid(list(range(0, 25)), xs, xa, dash=[1, 2]), hgrid(list(range(5, 50, 5)), ys, ya, L, R, dash=[1, 2]),
        border(T, L, R, B), seg(T, L + 5, 445, T, 2, color="white"), seg(T, L, L + 5, T, 1)]
gust_pts = []
for h, vals in enumerate(gust_by_hour):
    for k, v in enumerate(vals):
        gust_pts.append((h + k / 10.0, v))
lay.append(line(pdf(gust_pts), xs, ys, xa, ya, w=1.0, color="#5a5a5a"))
lay.append(line(pdf(wmean), xs, ys, xa, ya, w=2.0))
lay.append(alt.Chart(pdf(wdiam)).mark_point(shape="diamond", filled=True, fill="#c4c4c4", stroke="#333333",
                                             strokeWidth=0.9, size=60, opacity=1).encode(
    x=alt.X("x:Q", scale=xs, axis=xa), y=alt.Y("y:Q", scale=ys, axis=ya)))
lay += [rowlab(SPEED_EVEN, SPEED_EVEN_LAB, xs, T, 4773, size=12),
        rowlab(SPEED_ODD, SPEED_ODD_LAB, xs, T, 4788, size=12)]
lay.append(label(T, "0", 940, 4755, size=12, weight="bold"))
lay += [label(T, "Wokingham,  19 February 2011", 274, 4337, size=18.5),
        label(T, "Wind speed, 10 min mean / max gust", 575, 4326, size=14),
        label(T, "Speeds below 5 kt shown at x10 scale", 575, 4345, size=14)]
lay += box(T, 725, 4320, 941, 4346)
lay += [seg(T, 755, 765, 4334, 3), label(T, "Speed x 1", 772, 4333, size=11, align="left"),
        alt.Chart(ONE).mark_point(shape="diamond", filled=True, fill="#c4c4c4", stroke="#333333",
                                  strokeWidth=0.9, size=45, opacity=1).encode(
            x=alt.value(847 - X0), y=alt.value(4334 - T)),
        label(T, "Speed / 10", 857, 4333, size=11, align="left")]
lay.append(label(T, "Speed (knots)", 63, 4543, size=12, font=TFONT, angle=270))
lay.append(label(T, "Time (GMT)", 516, 4807, size=14))
panels.append(alt.layer(*lay).properties(width=VW, height=B - T))

chart = alt.concat(*panels, columns=1, spacing=0, align="none", bounds="full").properties(
    padding=0, background="white").configure_view(stroke=None, strokeWidth=0)

chart.save("out.html", embed_options={"renderer": "svg", "actions": False})
